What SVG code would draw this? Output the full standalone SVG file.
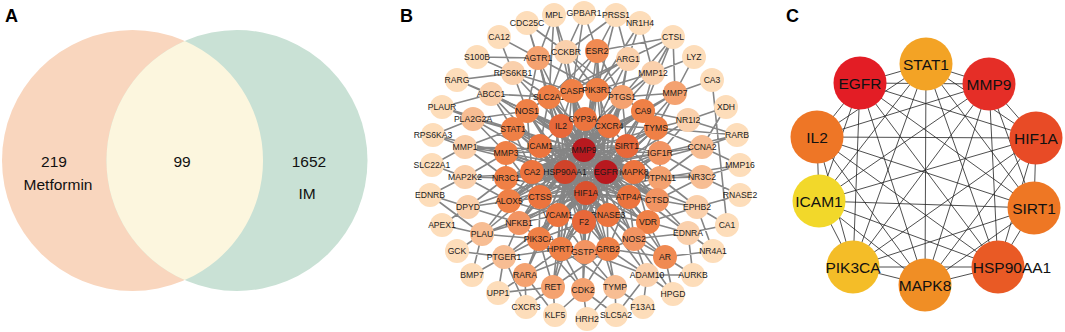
<svg xmlns="http://www.w3.org/2000/svg" width="1065" height="332" viewBox="0 0 1065 332">
<style>
.lbl{font-family:"Liberation Sans",Arial,sans-serif;font-weight:bold;font-size:18px;fill:#000}
.va{font-family:"Liberation Sans",Arial,sans-serif;font-size:15.5px;fill:#111;text-anchor:middle}
.eB{fill:none;stroke:#858585;stroke-width:1.6;stroke-linejoin:round;stroke-linecap:round}
.nB text{font-family:"Liberation Sans",Arial,sans-serif;font-size:8.6px;fill:#1a1a1a;text-anchor:middle}
.o{fill:#FDDDBA}.s1{fill:#FAD0AC}.s2{fill:#F7BD93}.s3{fill:#F4A270}.s4{fill:#F08A52}
.t1{fill:#F29462}.t2{fill:#EF8046}.t3{fill:#EC743E}.i1{fill:#E8683A}
.h1{fill:#DA512E}.h2{fill:#D0432A}.h3{fill:#B8191F}
.eC{fill:none;stroke:#222;stroke-width:0.8}
.nC text{font-family:"Liberation Sans",Arial,sans-serif;font-size:15.5px;fill:#111;text-anchor:middle}
</style>

<!-- Panel A -->
<g id="panelA">
<text class="lbl" x="5" y="22">A</text>
<g id="venn-metformin"><circle cx="132.5" cy="160.5" r="130.5" fill="#F9D6BE"/></g>
<g id="venn-im"><circle cx="237" cy="160.5" r="130.5" fill="#C9E1D5"/></g>
<g id="venn-overlap"><path d="M184.75 40.9A130.5 130.5 0 0 1 184.75 280.1A130.5 130.5 0 0 1 184.75 40.9Z" fill="#FCF6DE"/></g>
<text class="va" x="54" y="166.5">219</text>
<text class="va" x="58" y="189.5">Metformin</text>
<text class="va" x="182" y="166.5">99</text>
<text class="va" x="309" y="166.5">1652</text>
<text class="va" x="307" y="198.5">IM</text>
</g>

<!-- Panel B -->
<text class="lbl" x="400" y="22">B</text>
<g id="edgesB" class="eB">
<path d="M584 150L549 97L606 172L572 91L584 150L597 90L606 172L622 97L584 150L527 111L606 172L643 111L584 150L513 129L606 172L656 128L584 150L506 153L606 172L660 153L584 150L506 178L606 172L660 178L584 150L509 201L606 172L657 200L584 150L519 223L606 172L648 222L584 150L539 239L606 172L634 239L584 150L561 249L606 172L585 252L584 150L608 249L606 172"/>
<path d="M565 172L549 97L586 193L572 91L565 172L597 90L586 193L622 97L565 172L527 111L586 193L643 111L565 172L513 129L586 193L656 128L565 172L506 153L586 193L660 153L565 172L506 178L586 193L660 178L565 172L509 201L586 193L657 200L565 172L519 223L586 193L648 222L565 172L539 239L586 193L634 239L565 172L561 249L586 193L585 252L565 172L608 249L586 193"/>
<path d="M584 150L561 126L606 172L585 119L584 150L609 126L606 172L540 146L584 150L627 146L606 172L532 172L584 150L634 172L606 172L540 197L584 150L629 197L606 172L558 215L584 150L608 215L606 172L584 222L584 150"/>
<path d="M565 172L561 126L586 193L585 119L565 172L609 126L586 193L540 146L565 172L627 146L586 193L532 172L565 172L634 172L586 193L540 197L565 172L629 197L586 193L558 215L565 172L608 215L586 193L584 222L565 172"/>
<path d="M584 150L606 172L586 193L565 172L584 150L586 193M606 172L565 172"/>
<path d="M561 126L585 119L609 126L627 146L634 172L629 197L608 215L584 222L558 215L540 197L532 172L540 146L561 126M561 126L627 146M561 126L629 197M561 126L584 222M561 126L540 197M585 119L540 197M585 119L584 222M585 119L629 197M609 126L532 172M609 126L558 215M609 126L540 197M540 146L634 172M540 146L608 215M540 146L629 197M627 146L532 172M627 146L558 215M532 172L634 172M532 172L629 197M634 172L540 197M634 172L558 215M540 197L629 197M558 215L608 215M532 172L608 215M627 146L584 222M540 146L584 222M561 126L609 126M540 146L627 146"/>
<path d="M549 97L561 126L572 91L585 119L597 90L609 126L622 97L627 146L643 111L609 126L656 128L634 172L660 153L627 146L660 178L629 197L657 200L634 172L648 222L608 215L634 239L629 197L608 249L584 222L585 252L558 215L561 249L584 222L539 239L540 197L519 223L558 215L509 201L532 172L506 178L540 197L506 153L540 146L513 129L532 172L527 111L561 126L549 97L540 146"/>
<path d="M549 97L572 91L597 90L622 97L643 111L656 128L660 153L660 178L657 200L648 222L634 239L608 249L585 252L561 249L539 239L519 223L509 201L506 178L506 153L513 129L527 111L549 97"/>
<path d="M549 97L629 197M572 91L608 215M597 90L558 215M622 97L540 197M527 111L634 172M643 111L532 172M513 129L608 215M656 128L540 197M506 153L629 197M660 153L532 172M506 178L627 146M660 178L540 146M509 201L609 126M657 200L561 126M519 223L585 119M648 222L561 126M539 239L609 126M634 239L540 146M561 249L627 146M585 252L585 119M608 249L540 146M549 97L648 222M622 97L519 223M513 129L634 239M656 128L539 239M506 178L643 111M660 178L527 111M572 91L585 252M597 90L561 249M509 201L622 97M657 200L549 97"/>
<path d="M566 52L572 91M566 52L584 150M566 52L597 90M566 52L549 97M597 51L597 90M597 51L584 150M597 51L606 172M597 51L572 91M597 51L622 97M538 58L549 97M538 58L584 150M538 58L565 172M538 58L527 111M628 59L622 97M628 59L584 150M628 59L597 90M628 59L606 172M653 73L643 111M653 73L584 150M653 73L622 97M513 73L549 97M513 73L527 111M513 73L584 150M675 93L643 111M675 93L656 128M675 93L584 150M675 93L606 172M491 94L527 111M491 94L513 129M491 94L584 150M491 94L565 172M688 120L656 128M688 120L606 172M688 120L660 153M473 119L513 129M473 119L527 111M473 119L565 172M473 119L584 150M702 147L660 153M702 147L606 172M702 147L656 128M465 147L506 153M465 147L513 129M465 147L584 150M465 147L565 172M702 177L660 178M702 177L606 172M702 177L660 153M465 177L506 178M465 177L506 153M465 177L565 172M697 207L657 200M697 207L660 178M697 207L606 172M468 207L509 201M468 207L506 178M468 207L565 172M688 233L648 222M688 233L657 200M688 233L606 172M482 234L519 223M482 234L509 201M482 234L584 150M482 234L586 193M665 257L634 239M665 257L648 222M665 257L606 172M665 257L586 193M504 257L539 239M504 257L519 223M504 257L586 193M647 275L634 239M647 275L608 249M647 275L586 193M525 275L539 239M525 275L561 249M525 275L584 150M525 275L565 172M615 287L608 249M615 287L585 252M615 287L586 193M583 290L585 252M583 290L561 249M583 290L608 249M583 290L584 150M553 287L561 249M553 287L539 239M553 287L586 193M553 287L565 172"/>
<path d="M538 58L597 90M597 51L549 97M628 59L572 91M513 73L572 91M653 73L597 90M675 93L622 97M491 94L549 97M688 120L643 111M473 119L506 153M702 147L660 178M465 147L506 178M702 177L657 200M465 177L509 201M697 207L648 222M468 207L519 223M688 233L634 239M482 234L539 239M665 257L608 249M504 257L561 249M647 275L585 252M525 275L585 252M615 287L561 249M583 290L539 239M553 287L608 249M566 52L622 97M628 59L549 97"/>
<path d="M554 15L566 52M554 15L538 58M554 15L549 97M554 15L584 150M584 13L566 52M584 13L597 51M584 13L572 91M616 15L597 51M616 15L628 59M616 15L566 52M616 15L597 90M640 23L628 59M640 23L597 90M640 23L653 73M673 37L653 73M673 37L628 59M673 37L622 97M673 37L597 51M673 37L675 93M673 37L643 111M694 57L675 93M694 57L653 73M712 80L675 93M712 80L727 225M726 107L688 120M726 107L702 147M737 135L702 147M737 135L688 120M737 135L660 153M737 135L656 128M740 165L702 177M740 165L702 147M740 165L660 178M740 195L697 207M740 195L702 177M727 225L697 207M727 225L688 233M713 251L688 233M713 251L665 257M713 251L697 207M693 275L665 257M693 275L647 275M693 275L688 233M673 294L647 275M673 294L665 257M673 294L634 239M643 307L647 275M643 307L615 287M616 315L615 287M616 315L583 290M616 315L647 275M587 319L583 290M587 319L615 287M555 315L553 287M555 315L583 290M555 315L525 275M526 307L525 275M526 307L553 287M526 307L504 257M498 293L525 275M498 293L504 257M498 293L553 287M472 275L504 257M472 275L482 234M457 251L482 234M457 251L504 257M442 225L482 234M442 225L468 207M430 195L468 207M430 195L465 177M430 195L482 234M432 165L465 177M432 165L465 147M433 135L465 147M433 135L473 119M433 135L506 153M442 107L473 119M442 107L491 94M442 107L513 129M457 80L491 94M457 80L513 73M457 80L527 111M477 57L513 73M477 57L538 58M499 37L538 58M499 37L513 73M527 23L538 58M527 23L566 52M527 23L549 97"/>
</g>

<g id="nodesB" class="nB">
<g id="b-MPL"><circle cx="554" cy="15" r="12" class="o"/><text x="554" y="18">MPL</text></g>
<g id="b-GPBAR1"><circle cx="584" cy="13" r="12" class="o"/><text x="584" y="16">GPBAR1</text></g>
<g id="b-PRSS1"><circle cx="616" cy="15" r="12" class="o"/><text x="616" y="18">PRSS1</text></g>
<g id="b-NR1H4"><circle cx="640" cy="23" r="12" class="o"/><text x="640" y="26">NR1H4</text></g>
<g id="b-CTSL"><circle cx="673" cy="37" r="12" class="o"/><text x="673" y="40">CTSL</text></g>
<g id="b-LYZ"><circle cx="694" cy="57" r="12" class="o"/><text x="694" y="60">LYZ</text></g>
<g id="b-CA3"><circle cx="712" cy="80" r="12" class="o"/><text x="712" y="83">CA3</text></g>
<g id="b-XDH"><circle cx="726" cy="107" r="12" class="o"/><text x="726" y="110">XDH</text></g>
<g id="b-RARB"><circle cx="737" cy="135" r="12" class="o"/><text x="737" y="138">RARB</text></g>
<g id="b-MMP16"><circle cx="740" cy="165" r="12" class="o"/><text x="740" y="168">MMP16</text></g>
<g id="b-RNASE2"><circle cx="740" cy="195" r="12" class="o"/><text x="740" y="198">RNASE2</text></g>
<g id="b-CA1"><circle cx="727" cy="225" r="12" class="o"/><text x="727" y="228">CA1</text></g>
<g id="b-NR4A1"><circle cx="713" cy="251" r="12" class="o"/><text x="713" y="254">NR4A1</text></g>
<g id="b-AURKB"><circle cx="693" cy="275" r="12" class="o"/><text x="693" y="278">AURKB</text></g>
<g id="b-HPGD"><circle cx="673" cy="294" r="12" class="o"/><text x="673" y="297">HPGD</text></g>
<g id="b-F13A1"><circle cx="643" cy="307" r="12" class="o"/><text x="643" y="310">F13A1</text></g>
<g id="b-SLC5A2"><circle cx="616" cy="315" r="12" class="o"/><text x="616" y="318">SLC5A2</text></g>
<g id="b-HRH2"><circle cx="587" cy="319" r="12" class="o"/><text x="587" y="322">HRH2</text></g>
<g id="b-KLF5"><circle cx="555" cy="315" r="12" class="o"/><text x="555" y="318">KLF5</text></g>
<g id="b-CXCR3"><circle cx="526" cy="307" r="12" class="o"/><text x="526" y="310">CXCR3</text></g>
<g id="b-UPP1"><circle cx="498" cy="293" r="12" class="o"/><text x="498" y="296">UPP1</text></g>
<g id="b-BMP7"><circle cx="472" cy="275" r="12" class="o"/><text x="472" y="278">BMP7</text></g>
<g id="b-GCK"><circle cx="457" cy="251" r="12" class="o"/><text x="457" y="254">GCK</text></g>
<g id="b-APEX1"><circle cx="442" cy="225" r="12" class="o"/><text x="442" y="228">APEX1</text></g>
<g id="b-EDNRB"><circle cx="430" cy="195" r="12" class="o"/><text x="430" y="198">EDNRB</text></g>
<g id="b-SLC22A1"><circle cx="432" cy="165" r="12" class="o"/><text x="432" y="168">SLC22A1</text></g>
<g id="b-RPS6KA3"><circle cx="433" cy="135" r="12" class="o"/><text x="433" y="138">RPS6KA3</text></g>
<g id="b-PLAUR"><circle cx="442" cy="107" r="12" class="o"/><text x="442" y="110">PLAUR</text></g>
<g id="b-RARG"><circle cx="457" cy="80" r="12" class="o"/><text x="457" y="83">RARG</text></g>
<g id="b-S100B"><circle cx="477" cy="57" r="12" class="o"/><text x="477" y="60">S100B</text></g>
<g id="b-CA12"><circle cx="499" cy="37" r="12" class="o"/><text x="499" y="40">CA12</text></g>
<g id="b-CDC25C"><circle cx="527" cy="23" r="12" class="o"/><text x="527" y="26">CDC25C</text></g>

<g id="b-CCKBR"><circle cx="566" cy="52" r="12" class="s1"/><text x="566" y="55">CCKBR</text></g>
<g id="b-ESR2"><circle cx="597" cy="51" r="12" class="s4"/><text x="597" y="54">ESR2</text></g>
<g id="b-AGTR1"><circle cx="538" cy="58" r="12" class="s3"/><text x="538" y="61">AGTR1</text></g>
<g id="b-ARG1"><circle cx="628" cy="59" r="12" class="s1"/><text x="628" y="62">ARG1</text></g>
<g id="b-MMP12"><circle cx="653" cy="73" r="12" class="s1"/><text x="653" y="76">MMP12</text></g>
<g id="b-RPS6KB1"><circle cx="513" cy="73" r="12" class="s1"/><text x="513" y="76">RPS6KB1</text></g>
<g id="b-MMP7"><circle cx="675" cy="93" r="12" class="s3"/><text x="675" y="96">MMP7</text></g>
<g id="b-ABCC1"><circle cx="491" cy="94" r="12" class="s1"/><text x="491" y="97">ABCC1</text></g>
<g id="b-NR1I2"><circle cx="688" cy="120" r="12" class="s1"/><text x="688" y="123">NR1I2</text></g>
<g id="b-PLA2G2A"><circle cx="473" cy="119" r="12" class="s2"/><text x="473" y="122">PLA2G2A</text></g>
<g id="b-CCNA2"><circle cx="702" cy="147" r="12" class="s2"/><text x="702" y="150">CCNA2</text></g>
<g id="b-MMP1"><circle cx="465" cy="147" r="12" class="s1"/><text x="465" y="150">MMP1</text></g>
<g id="b-NR3C2"><circle cx="702" cy="177" r="12" class="s2"/><text x="702" y="180">NR3C2</text></g>
<g id="b-MAP2K2"><circle cx="465" cy="177" r="12" class="s1"/><text x="465" y="180">MAP2K2</text></g>
<g id="b-EPHB2"><circle cx="697" cy="207" r="12" class="s1"/><text x="697" y="210">EPHB2</text></g>
<g id="b-DPYD"><circle cx="468" cy="207" r="12" class="s1"/><text x="468" y="210">DPYD</text></g>
<g id="b-EDNRA"><circle cx="688" cy="233" r="12" class="s1"/><text x="688" y="236">EDNRA</text></g>
<g id="b-PLAU"><circle cx="482" cy="234" r="12" class="s2"/><text x="482" y="237">PLAU</text></g>
<g id="b-AR"><circle cx="665" cy="257" r="12" class="s4"/><text x="665" y="260">AR</text></g>
<g id="b-PTGER1"><circle cx="504" cy="257" r="12" class="s2"/><text x="504" y="260">PTGER1</text></g>
<g id="b-ADAM10"><circle cx="647" cy="275" r="12" class="s1"/><text x="647" y="278">ADAM10</text></g>
<g id="b-RARA"><circle cx="525" cy="275" r="12" class="s3"/><text x="525" y="278">RARA</text></g>
<g id="b-TYMP"><circle cx="615" cy="287" r="12" class="s2"/><text x="615" y="290">TYMP</text></g>
<g id="b-CDK2"><circle cx="583" cy="290" r="12" class="s3"/><text x="583" y="293">CDK2</text></g>
<g id="b-RET"><circle cx="553" cy="287" r="12" class="s3"/><text x="553" y="290">RET</text></g>

<g id="b-SLC2A1"><circle cx="549" cy="97" r="12" class="t2"/><text x="549" y="100">SLC2A1</text></g>
<g id="b-CASP"><circle cx="572" cy="91" r="12" class="t2"/><text x="572" y="94">CASP</text></g>
<g id="b-PIK3R1"><circle cx="597" cy="90" r="12" class="t2"/><text x="597" y="93">PIK3R1</text></g>
<g id="b-PTGS1"><circle cx="622" cy="97" r="12" class="s3"/><text x="622" y="100">PTGS1</text></g>
<g id="b-NOS1"><circle cx="527" cy="111" r="12" class="t2"/><text x="527" y="114">NOS1</text></g>
<g id="b-CA9"><circle cx="643" cy="111" r="12" class="t2"/><text x="643" y="114">CA9</text></g>
<g id="b-STAT1"><circle cx="513" cy="129" r="12" class="t2"/><text x="513" y="132">STAT1</text></g>
<g id="b-TYMS"><circle cx="656" cy="128" r="12" class="t2"/><text x="656" y="131">TYMS</text></g>
<g id="b-MMP3"><circle cx="506" cy="153" r="12" class="t2"/><text x="506" y="156">MMP3</text></g>
<g id="b-IGF1R"><circle cx="660" cy="153" r="12" class="t1"/><text x="660" y="156">IGF1R</text></g>
<g id="b-NR3C1"><circle cx="506" cy="178" r="12" class="t2"/><text x="506" y="181">NR3C1</text></g>
<g id="b-PTPN11"><circle cx="660" cy="178" r="12" class="s3"/><text x="660" y="181">PTPN11</text></g>
<g id="b-ALOX5"><circle cx="509" cy="201" r="12" class="t2"/><text x="509" y="204">ALOX5</text></g>
<g id="b-CTSD"><circle cx="657" cy="200" r="12" class="t1"/><text x="657" y="203">CTSD</text></g>
<g id="b-NFKB1"><circle cx="519" cy="223" r="12" class="t1"/><text x="519" y="226">NFKB1</text></g>
<g id="b-VDR"><circle cx="648" cy="222" r="12" class="t2"/><text x="648" y="225">VDR</text></g>
<g id="b-PIK3CA"><circle cx="539" cy="239" r="12" class="t2"/><text x="539" y="242">PIK3CA</text></g>
<g id="b-NOS2"><circle cx="634" cy="239" r="12" class="t1"/><text x="634" y="242">NOS2</text></g>
<g id="b-HPRT1"><circle cx="561" cy="249" r="12" class="t2"/><text x="561" y="252">HPRT1</text></g>
<g id="b-GSTP1"><circle cx="585" cy="252" r="12" class="t1"/><text x="585" y="255">GSTP1</text></g>
<g id="b-GRB2"><circle cx="608" cy="249" r="12" class="t2"/><text x="608" y="252">GRB2</text></g>

<g id="b-IL2"><circle cx="561" cy="126" r="12" class="i1"/><text x="561" y="129">IL2</text></g>
<g id="b-CYP3A4"><circle cx="585" cy="119" r="12" class="t3"/><text x="585" y="122">CYP3A4</text></g>
<g id="b-CXCR4"><circle cx="609" cy="126" r="12" class="t3"/><text x="609" y="129">CXCR4</text></g>
<g id="b-ICAM1"><circle cx="540" cy="146" r="12" class="t3"/><text x="540" y="149">ICAM1</text></g>
<g id="b-SIRT1"><circle cx="627" cy="146" r="12" class="i1"/><text x="627" y="149">SIRT1</text></g>
<g id="b-CA2"><circle cx="532" cy="172" r="12" class="t3"/><text x="532" y="175">CA2</text></g>
<g id="b-MAPK8"><circle cx="634" cy="172" r="12" class="t3"/><text x="634" y="175">MAPK8</text></g>
<g id="b-CTSS"><circle cx="540" cy="197" r="12" class="t3"/><text x="540" y="200">CTSS</text></g>
<g id="b-ATP4A"><circle cx="629" cy="197" r="12" class="t3"/><text x="629" y="200">ATP4A</text></g>
<g id="b-VCAM1"><circle cx="558" cy="215" r="12" class="t3"/><text x="558" y="218">VCAM1</text></g>
<g id="b-RNASE3"><circle cx="608" cy="215" r="12" class="t3"/><text x="608" y="218">RNASE3</text></g>
<g id="b-F2"><circle cx="584" cy="222" r="12" class="i1"/><text x="584" y="225">F2</text></g>
<g id="b-MMP9"><circle cx="584" cy="150" r="12" class="h3"/><text x="584" y="153">MMP9</text></g>
<g id="b-HSP90AA1"><circle cx="565" cy="172" r="12" class="h2"/><text x="565" y="175">HSP90AA1</text></g>
<g id="b-EGFR"><circle cx="606" cy="172" r="12" class="h3"/><text x="606" y="175">EGFR</text></g>
<g id="b-HIF1A"><circle cx="586" cy="193" r="12" class="h1"/><text x="586" y="196">HIF1A</text></g>
</g>

<!-- Panel C -->
<text class="lbl" x="786" y="22">C</text>
<g id="edgesC" class="eC">
<path d="M926 64L860 83M926 64L989 84M926 64L817 137M926 64L1036 138M926 64L819 201M926 64L1034 208M926 64L853 267M926 64L998 267M926 64L925 285M860 83L989 84M860 83L817 137M860 83L1036 138M860 83L819 201M860 83L1034 208M860 83L853 267M860 83L998 267M860 83L925 285M989 84L817 137M989 84L1036 138M989 84L819 201M989 84L1034 208M989 84L853 267M989 84L998 267M989 84L925 285M817 137L1036 138M817 137L819 201M817 137L1034 208M817 137L853 267M817 137L998 267M817 137L925 285M1036 138L819 201M1036 138L1034 208M1036 138L853 267M1036 138L998 267M1036 138L925 285M819 201L1034 208M819 201L853 267M819 201L998 267M819 201L925 285M1034 208L853 267M1034 208L998 267M1034 208L925 285M853 267L998 267M853 267L925 285M998 267L925 285"/>
</g>
<g id="nodesC" class="nC">
<g id="c-STAT1"><circle cx="926" cy="64" r="26.5" fill="#F3A325"/><text x="926" y="69.5">STAT1</text></g>
<g id="c-EGFR"><circle cx="860" cy="83" r="26.5" fill="#E31D25"/><text x="860" y="88.5">EGFR</text></g>
<g id="c-MMP9"><circle cx="989" cy="84" r="26.5" fill="#E52E27"/><text x="989" y="89.5">MMP9</text></g>
<g id="c-IL2"><circle cx="817" cy="137" r="26.5" fill="#EE7626"/><text x="817" y="142.5">IL2</text></g>
<g id="c-HIF1A"><circle cx="1036" cy="138" r="26.5" fill="#E84B26"/><text x="1036" y="143.5">HIF1A</text></g>
<g id="c-ICAM1"><circle cx="819" cy="201" r="26.5" fill="#F2D82A"/><text x="819" y="206.5">ICAM1</text></g>
<g id="c-SIRT1"><circle cx="1034" cy="208" r="26.5" fill="#EE7724"/><text x="1034" y="213.5">SIRT1</text></g>
<g id="c-PIK3CA"><circle cx="853" cy="267" r="26.5" fill="#F4BD28"/><text x="853" y="272.5">PIK3CA</text></g>
<g id="c-HSP90AA1"><circle cx="998" cy="267" r="26.5" fill="#E95A25"/><text x="1012" y="272.5">HSP90AA1</text></g>
<g id="c-MAPK8"><circle cx="925" cy="285" r="26.5" fill="#F08E25"/><text x="925" y="290.5">MAPK8</text></g>
</g>
</svg>
